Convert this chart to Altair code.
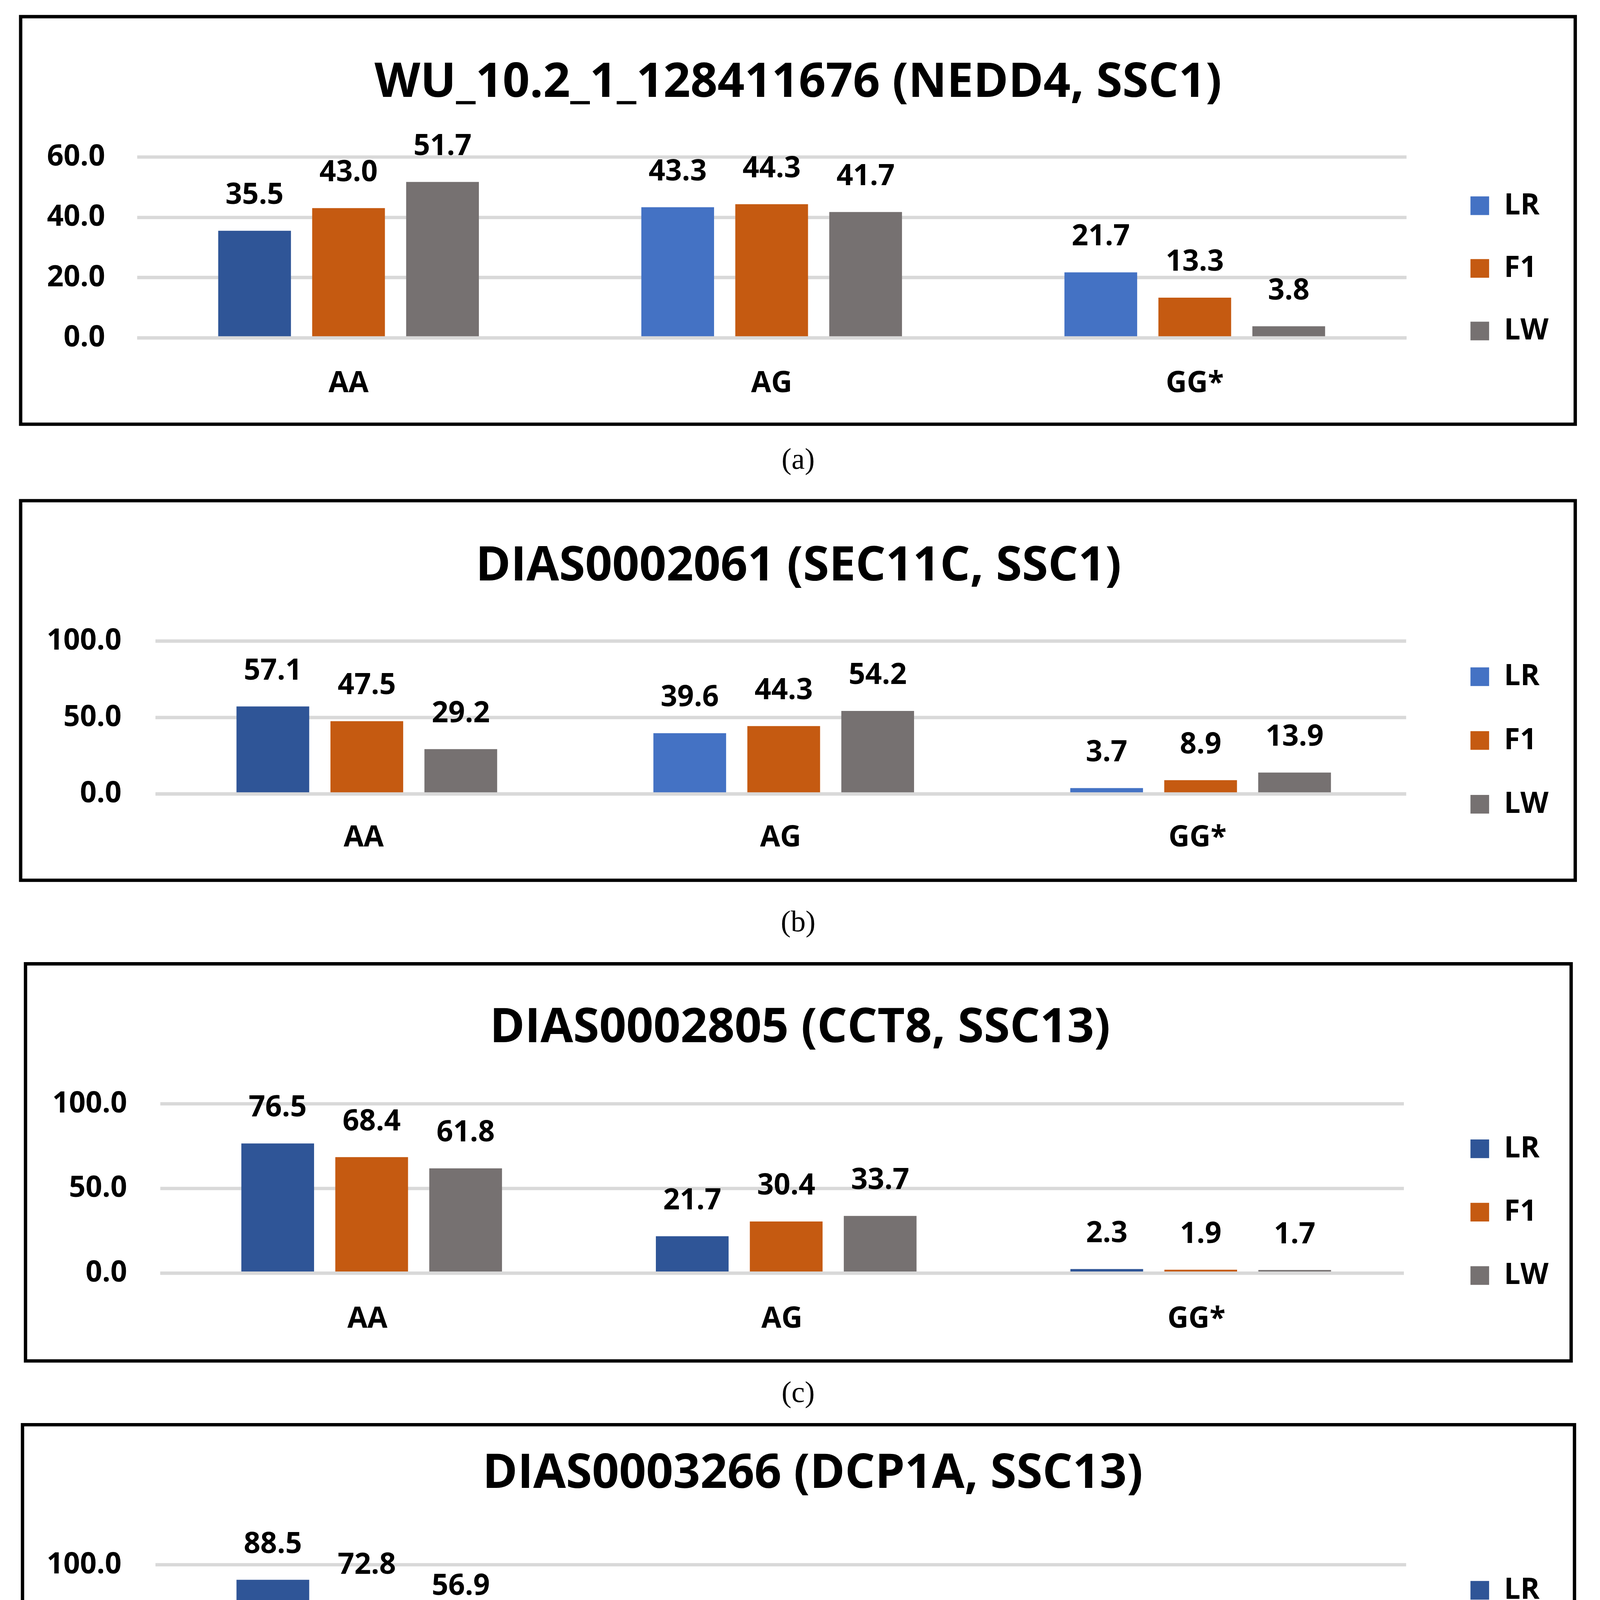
import json
import altair as alt
import pandas as pd

# ---- data ---------------------------------------------------------------
breeds = ["LR", "F1", "LW"]

titles = [
    "WU_10.2_1_128411676 (NEDD4, SSC1)",
    "DIAS0002061 (SEC11C, SSC1)",
    "DIAS0002805 (CCT8, SSC13)",
    "DIAS0003266 (DCP1A, SSC13)",
]
captions = ["(a)", "(b)", "(c)", "(d)"]

genotypes_a = ["AA", "AG", "GG*"]
lr_a = [35.5, 43.3, 21.7]
f1_a = [43.0, 44.3, 13.3]
lw_a = [51.7, 41.7, 3.8]

genotypes_b = ["AA", "AG", "GG*"]
lr_b = [57.1, 39.6, 3.7]
f1_b = [47.5, 44.3, 8.9]
lw_b = [29.2, 54.2, 13.9]

genotypes_c = ["AA", "AG", "GG*"]
lr_c = [76.5, 21.7, 2.3]
f1_c = [68.4, 30.4, 1.9]
lw_c = [61.8, 33.7, 1.7]

genotypes_d = ["AA*", "AC", "CC"]
lr_d = [88.5, 10.6, 1.4]
f1_d = [72.8, 25.9, 1.9]
lw_d = [56.9, 35.1, 5.2]

y_ticks_a = [0, 20, 40, 60]
y_ticks_bcd = [0, 50, 100]

# ---- style --------------------------------------------------------------
LR_LIGHT = "#4472C4"
LR_DARK = "#2F5597"
F1_COL = "#C55A11"
LW_COL = "#767171"
GRID = "#D9D9D9"
FONT = "Open Sans"
FS = 78
STEP = 252      # bar pitch inside a group
PI = 0.226      # gap / pitch

# absolute page pixels
layouts = [
    dict(plot=(367, 423, 3404, 485), border=(55, 47, 4224, 1140), title=(2140, 262),
         caption=1235, legend=515, row_pad=90, xlab=146, ylab=86, cell=(8, 1340)),
    dict(plot=(416, 1721, 3354, 410), border=(55, 1345, 4224, 2363), title=(2141, 1559),
         caption=2476, legend=1778, row_pad=93, xlab=141, ylab=91, cell=(1340, 2582)),
    dict(plot=(429, 2962, 3335, 454), border=(68, 2587, 4213, 3652), title=(2145, 2797),
         caption=3738, legend=3044, row_pad=92, xlab=146, ylab=89, cell=(2582, 3818)),
    dict(plot=(416, 4198, 3354, 356), border=(60, 3823, 4222, 4790), title=(2179, 3992),
         caption=4876, legend=4228, row_pad=93, xlab=140, ylab=91, cell=(3818, 4933)),
]
CELL_LEFT, CELL_RIGHT = 50, 4282
LEGEND_LEFT = 3929
CAPTION_X = 2140


def panel(title, caption, genotypes, lr, f1, lw, y_ticks, dark_lr, legend_lr, lay):
    x0, y0, w, h = lay["plot"]
    rows = []
    for g, a, b, c in zip(genotypes, lr, f1, lw):
        rows += [{"genotype": g, "breed": "LR", "value": a},
                 {"genotype": g, "breed": "F1", "value": b},
                 {"genotype": g, "breed": "LW", "value": c}]
    df = pd.DataFrame(rows)

    po = (w / 3 / STEP - (3 - PI)) / 2
    x = alt.X("genotype:N", sort=genotypes,
              scale=alt.Scale(paddingInner=0, paddingOuter=0),
              axis=alt.Axis(title=None, labelAngle=0, ticks=False, domain=True,
                            domainColor=GRID, domainWidth=9, labelFont=FONT,
                            labelFontSize=FS, labelFontWeight="bold", labelColor="black",
                            labelBaseline="alphabetic", labelPadding=lay["xlab"],
                            labelLimit=1000, zindex=1))
    xo = alt.XOffset("breed:N", sort=breeds,
                     scale=alt.Scale(domain=breeds, paddingInner=PI, paddingOuter=po))
    y = alt.Y("value:Q", scale=alt.Scale(domain=[0, y_ticks[-1]], nice=False, zero=True),
              axis=alt.Axis(title=None, values=y_ticks, format=".1f", grid=True,
                            gridColor=GRID, gridWidth=9, domain=False, ticks=False,
                            labelFont=FONT, labelFontSize=FS, labelFontWeight="bold",
                            labelColor="black", labelPadding=lay["ylab"], labelLimit=1000))
    color = alt.Color("breed:N",
                      scale=alt.Scale(domain=breeds, range=[legend_lr, F1_COL, LW_COL]),
                      legend=alt.Legend(title=None, orient="none",
                                        legendX=LEGEND_LEFT - x0, legendY=lay["legend"] - y0,
                                        symbolType="square", symbolSize=2500,
                                        symbolStrokeWidth=0, symbolOpacity=1,
                                        labelFont=FONT, labelFontSize=FS,
                                        labelFontWeight="bold", labelColor="black",
                                        labelLimit=1000,
                                        labelOffset=26, rowPadding=lay["row_pad"], padding=0))
    if dark_lr:
        test = "datum.breed === 'LR' && indexof(%s, datum.genotype) >= 0" % json.dumps(dark_lr)
        color = alt.condition(test, alt.value(LR_DARK), color)

    bars = alt.Chart(df).mark_bar().encode(x=x, xOffset=xo, y=y, color=color)
    labels = alt.Chart(df).mark_text(
        baseline="alphabetic", dy=-72, font=FONT, fontSize=FS, fontWeight="bold", color="black"
    ).encode(x=x, xOffset=xo, y=y, text=alt.Text("value:Q", format=".1f"))

    one = pd.DataFrame({"t": [title], "c": [caption]})
    ct, cb = lay["cell"]
    cell = alt.Chart(one).mark_rect(opacity=0).encode(
        x=alt.value(CELL_LEFT - x0), x2=alt.value(CELL_RIGHT - x0),
        y=alt.value(ct - y0), y2=alt.value(cb - y0))
    bl, bt, br, bb = lay["border"]
    border = alt.Chart(one).mark_rect(fillOpacity=0, stroke="black", strokeWidth=9).encode(
        x=alt.value(bl - x0), x2=alt.value(br - x0),
        y=alt.value(bt - y0), y2=alt.value(bb - y0))
    tx, ty = lay["title"]
    head = alt.Chart(one).mark_text(
        font=FONT, fontSize=127, fontWeight="bold", color="black",
        align="center", baseline="alphabetic"
    ).encode(text="t:N", x=alt.value(tx - x0), y=alt.value(ty - y0))
    foot = alt.Chart(one).mark_text(
        font="Liberation Serif", fontSize=80, color="black",
        align="center", baseline="middle"
    ).encode(text="c:N", x=alt.value(CAPTION_X - x0), y=alt.value(lay["caption"] - y0))

    body = alt.layer(cell, border, bars, labels, head, foot).properties(width=w, height=h)

    spacer = alt.Chart(pd.DataFrame({"s": [0]})).mark_rect(opacity=0).encode(
        x=alt.value(0), x2=alt.value(CELL_LEFT - 8), y=alt.value(0), y2=alt.value(1)
    ).properties(width=CELL_LEFT - 8, height=1)

    return alt.hconcat(spacer, body, spacing=0).resolve_scale(color="independent")


specs = [
    (genotypes_a, lr_a, f1_a, lw_a, y_ticks_a, ["AA"], LR_LIGHT),
    (genotypes_b, lr_b, f1_b, lw_b, y_ticks_bcd, ["AA"], LR_LIGHT),
    (genotypes_c, lr_c, f1_c, lw_c, y_ticks_bcd, [], LR_DARK),
    (genotypes_d, lr_d, f1_d, lw_d, y_ticks_bcd, [], LR_DARK),
]

rows = [panel(titles[i], captions[i], *specs[i], layouts[i]) for i in range(4)]

chart = (
    alt.vconcat(*rows, spacing=0)
    .resolve_scale(color="independent")
    .properties(padding={"top": -117, "left": 0, "right": 0, "bottom": 0})
    .configure_view(strokeWidth=0)
)

chart.save("out.html", embed_options={"renderer": "svg", "actions": False})
